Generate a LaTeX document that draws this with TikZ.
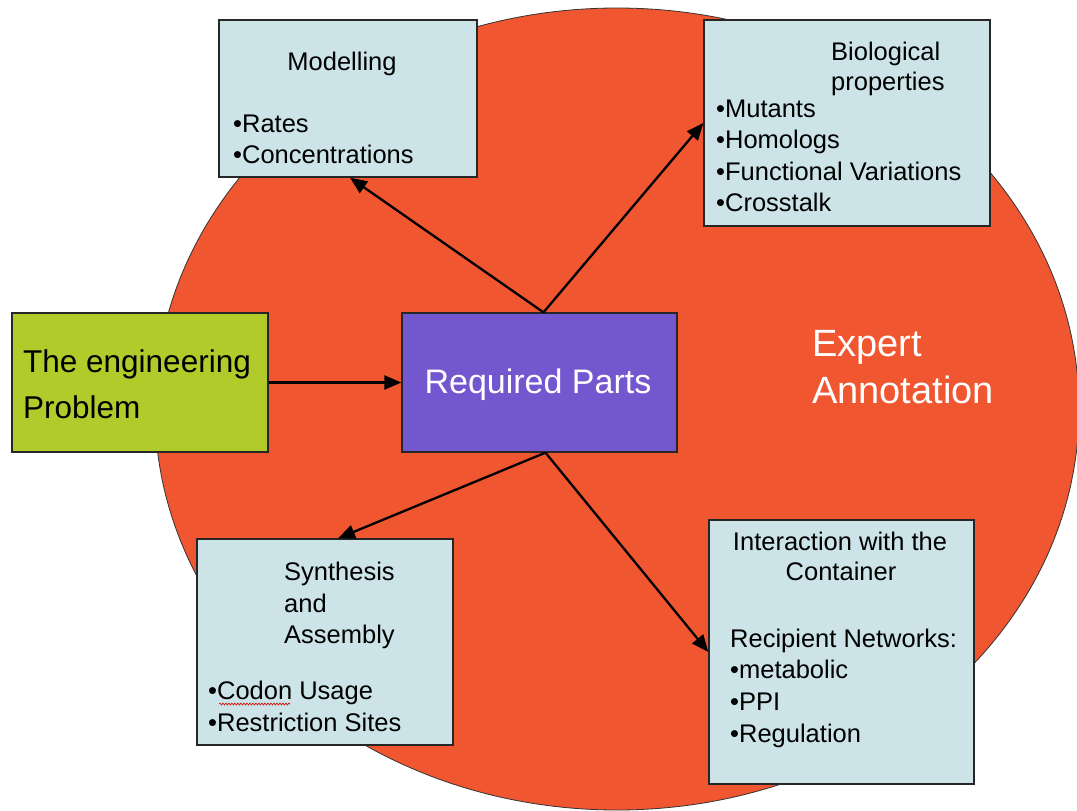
\documentclass[tikz,border=0pt]{standalone}
\usepackage{fontspec}
\setmainfont{Liberation Sans}
\usetikzlibrary{arrows.meta,decorations.pathmorphing}
\definecolor{annotfill}{RGB}{240,86,48}
\definecolor{panelfill}{RGB}{204,228,232}
\definecolor{probfill}{RGB}{177,204,42}
\definecolor{partsfill}{RGB}{114,87,207}
\begin{document}
\begin{tikzpicture}[x=1pt,y=-1pt,
  box/.style={draw=black!85, line width=1.3pt, rectangle, inner sep=0pt},
  panel/.style={box, fill=panelfill},
  txt/.style={inner sep=0pt, font=\fontsize{25.5}{30}\selectfont},
  bigtxt/.style={inner sep=0pt, font=\fontsize{31.5}{38}\selectfont},
  whitetxt/.style={inner sep=0pt, text=white},
  link/.style={line width=2.3pt, -{Triangle[length=17pt,width=14pt]}}]
\useasboundingbox (0,0) rectangle (1077,811);

% background field
\fill[annotfill, draw=black!80, line width=0.8pt] (617,409) ellipse [x radius=462, y radius=401];
\node[whitetxt, anchor=base west, font=\fontsize{38}{46}\selectfont] (expert) at (812,356) {Expert};
\node[whitetxt, anchor=base west, font=\fontsize{38}{46}\selectfont] (annot) at (812,403) {Annotation};

% boxes
\node[panel, minimum width=258pt, minimum height=157pt] (model) at (348,98.5) {};
\node[panel, minimum width=286pt, minimum height=206pt] (bio) at (847,123) {};
\node[box, fill=probfill, minimum width=256pt, minimum height=139pt] (prob) at (140,382.5) {};
\node[box, fill=partsfill, minimum width=275pt, minimum height=139pt] (req) at (539.5,382.5) {};
\node[panel, minimum width=256pt, minimum height=206pt] (synth) at (325,642) {};
\node[panel, minimum width=265pt, minimum height=264pt] (inter) at (841.5,652) {};

% modelling
\node[txt, anchor=base] (mT) at (342,70) {Modelling};
\node[txt, anchor=base west] (m1) at (233,132) {•Rates};
\node[txt, anchor=base west] (m2) at (233,163) {•Concentrations};

% biological properties
\node[txt, anchor=base west] (bT1) at (831,60) {Biological};
\node[txt, anchor=base west] (bT2) at (831,90) {properties};
\node[txt, anchor=base west] (b1) at (716,117) {•Mutants};
\node[txt, anchor=base west] (b2) at (716,148) {•Homologs};
\node[txt, anchor=base west] (b3) at (716,180) {•Functional Variations};
\node[txt, anchor=base west] (b4) at (716,211) {•Crosstalk};

% engineering problem
\node[bigtxt, anchor=base west] (p1) at (23,372) {The engineering};
\node[bigtxt, anchor=base west] (p2) at (23,418) {Problem};

% required parts
\node[whitetxt, anchor=base, font=\fontsize{34}{40}\selectfont] (rT) at (538,393) {Required Parts};

% synthesis and assembly
\node[txt, anchor=base west] (sT1) at (284,580) {Synthesis};
\node[txt, anchor=base west] (sT2) at (284,612) {and};
\node[txt, anchor=base west] (sT3) at (284,643) {Assembly};
\node[txt, anchor=base west] (s1) at (208,699) {•Codon Usage};
\node[txt, anchor=base west] (s2) at (208,731) {•Restriction Sites};
\draw[red!85!black, line width=0.6pt, decorate, decoration={snake, amplitude=1pt, segment length=3pt}] (219,704) -- (290,704);

% interaction with the container
\node[txt, anchor=base] (iT1) at (840,550) {Interaction with the};
\node[txt, anchor=base] (iT2) at (841,580) {Container};
\node[txt, anchor=base west] (i0) at (730,647) {Recipient Networks:};
\node[txt, anchor=base west] (i1) at (730,678) {•metabolic};
\node[txt, anchor=base west] (i2) at (730,710) {•PPI};
\node[txt, anchor=base west] (i3) at (730,742) {•Regulation};

% connectors
\coordinate (reqTop) at ([xshift=4pt]req.north);
\coordinate (reqBot) at ([xshift=6pt]req.south);
\coordinate (synthIn) at ([xshift=13pt]synth.north);
\coordinate (modelIn) at ([xshift=2pt]model.south);
\draw[link] (prob.east) -- (req.west);
\draw[link] (reqTop) -- (modelIn);
\draw[link] (reqTop) -- (bio.west);
\draw[link] (reqBot) -- (synthIn);
\draw[link] (reqBot) -- (inter.west);
\end{tikzpicture}
\end{document}
